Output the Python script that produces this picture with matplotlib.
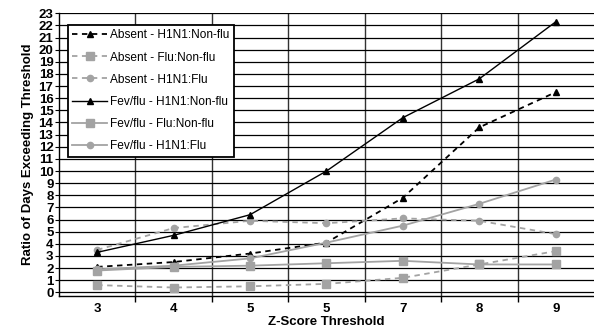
import matplotlib
matplotlib.use('Agg')
import matplotlib.pyplot as plt
import numpy as np

plt.rcParams['font.family'] = ['Liberation Sans', 'DejaVu Sans']

# category labels (the chart repeats "5")
categories = ['3', '4', '5', '5', '7', '8', '9']

absent_h1n1_nonflu = [2.1, 2.5, 3.2, 4.1, 7.8, 13.6, 16.5]
absent_flu_nonflu = [0.6, 0.4, 0.5, 0.7, 1.2, 2.3, 3.4]
absent_h1n1_flu = [3.5, 5.3, 5.9, 5.7, 6.1, 5.9, 4.8]
fevflu_h1n1_nonflu = [3.3, 4.7, 6.4, 10.0, 14.4, 17.6, 22.3]
fevflu_flu_nonflu = [1.8, 2.1, 2.2, 2.4, 2.6, 2.3, 2.3]
fevflu_h1n1_flu = [1.9, 2.2, 2.8, 4.1, 5.5, 7.3, 9.3]

labels = ['Absent - H1N1:Non-flu', 'Absent - Flu:Non-flu', 'Absent - H1N1:Flu',
          'Fev/flu - H1N1:Non-flu', 'Fev/flu - Flu:Non-flu', 'Fev/flu - H1N1:Flu']

grey = '#a3a3a3'

fig = plt.figure(figsize=(5.94, 3.32), dpi=100)
ax = fig.add_axes([0.0993, 0.1084, 0.9007, 0.8516])

x = np.arange(len(categories))

ax.plot(x, absent_h1n1_nonflu, color='black', ls=(0, (3, 2.5)), lw=1.3,
        marker='^', ms=5, label=labels[0])
ax.plot(x, absent_flu_nonflu, color=grey, ls=(0, (3, 2.5)), lw=1.3,
        marker='s', ms=6, label=labels[1])
ax.plot(x, absent_h1n1_flu, color=grey, ls=(0, (3, 2.5)), lw=1.3,
        marker='o', ms=4.5, label=labels[2])
ax.plot(x, fevflu_h1n1_nonflu, color='black', ls='-', lw=1.0,
        marker='^', ms=5, label=labels[3])
ax.plot(x, fevflu_flu_nonflu, color=grey, ls='-', lw=1.3,
        marker='s', ms=6, label=labels[4])
ax.plot(x, fevflu_h1n1_flu, color=grey, ls='-', lw=1.3,
        marker='o', ms=4.5, label=labels[5])

ax.set_xlim(-0.5, len(categories) - 0.5)
ax.set_ylim(-0.3, 23)
ax.set_yticks(range(0, 24))
ax.set_xticks(x)
ax.set_xticklabels(categories)
ax.set_xticks(np.arange(0.5, len(categories) - 1, 1), minor=True)

ax.grid(True, axis='y', which='major', color='black', lw=0.9)
ax.grid(True, axis='x', which='minor', color='#333333', lw=1.0)
ax.set_axisbelow(True)

ax.tick_params(axis='y', length=3, width=0.8, pad=1, labelsize=9.5)
ax.tick_params(axis='x', which='major', length=0, pad=5, labelsize=9.5)
ax.tick_params(axis='x', which='minor', length=4, width=1.0)
for lab in ax.get_xticklabels() + ax.get_yticklabels():
    lab.set_fontweight('bold')

for side in ['top', 'right']:
    ax.spines[side].set_visible(False)
ax.spines['left'].set_linewidth(1.0)
ax.spines['bottom'].set_linewidth(1.0)
ax.axhline(23, color='black', lw=1.2)

ax.set_xlabel('Z-Score Threshold', fontsize=9.5, fontweight='bold', labelpad=1)
ax.set_ylabel('Ratio of Days Exceeding Threshold', fontsize=9.5, fontweight='bold', labelpad=3)

leg = ax.legend(loc='upper left', bbox_to_anchor=(0.016, 0.96), fontsize=8.6,
                frameon=True, fancybox=False, framealpha=1, edgecolor='black',
                borderpad=0.4, labelspacing=0.85, handlelength=2.9, handletextpad=0.25,
                borderaxespad=0)
leg.get_frame().set_linewidth(1.3)

fig.savefig('out.png', dpi=100)
